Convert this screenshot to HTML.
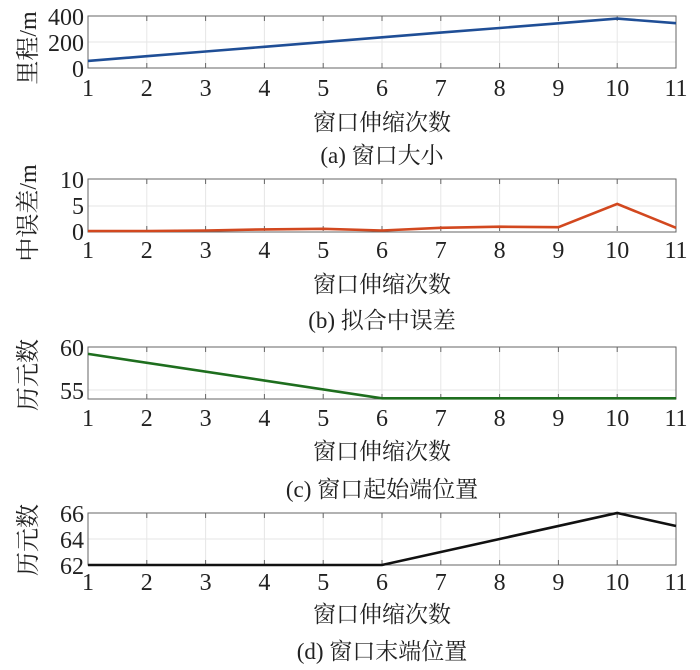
<!DOCTYPE html>
<html><head><meta charset="utf-8"><style>
body{margin:0;background:#fff}
svg text{font-family:"Liberation Serif","Noto Serif CJK SC",serif;fill:#222}
</style></head><body>
<svg width="700" height="665" viewBox="0 0 700 665" xmlns="http://www.w3.org/2000/svg">
<defs>
<g id="vg" stroke="#e6e6e6" stroke-width="1">
<line x1="146.8" x2="146.8" y1="0" y2="52"/><line x1="205.6" x2="205.6" y1="0" y2="52"/><line x1="264.4" x2="264.4" y1="0" y2="52"/><line x1="323.2" x2="323.2" y1="0" y2="52"/><line x1="382" x2="382" y1="0" y2="52"/><line x1="440.8" x2="440.8" y1="0" y2="52"/><line x1="499.6" x2="499.6" y1="0" y2="52"/><line x1="558.4" x2="558.4" y1="0" y2="52"/><line x1="617.2" x2="617.2" y1="0" y2="52"/>
</g>
<g id="tk" stroke="#666" stroke-width="1">
<path d="M146.8 0v5M205.6 0v5M264.4 0v5M323.2 0v5M382 0v5M440.8 0v5M499.6 0v5M558.4 0v5M617.2 0v5M146.8 52v-5M205.6 52v-5M264.4 52v-5M323.2 52v-5M382 52v-5M440.8 52v-5M499.6 52v-5M558.4 52v-5M617.2 52v-5"/>
</g>
<g id="xl" font-size="24" text-anchor="middle">
<text x="88" y="0">1</text><text x="146.8" y="0">2</text><text x="205.6" y="0">3</text><text x="264.4" y="0">4</text><text x="323.2" y="0">5</text><text x="382" y="0">6</text><text x="440.8" y="0">7</text><text x="499.6" y="0">8</text><text x="558.4" y="0">9</text><text x="617.2" y="0">10</text><text x="676" y="0">11</text>
</g>
</defs>

<!-- Panel a -->
<use href="#vg" y="16"/>
<line x1="88" x2="676" y1="42" y2="42" stroke="#e6e6e6"/>
<use href="#tk" y="16"/>
<rect x="88" y="16" width="588" height="52" fill="none" stroke="#666"/>
<polyline fill="none" stroke="#1f4e96" stroke-width="2.6" points="88,60.9 146.8,56.2 205.6,51.5 264.4,46.8 323.2,42.1 382,37.3 440.8,32.6 499.6,28 558.4,23.3 617.2,18.6 676,23.2"/>
<g font-size="24" text-anchor="end"><text x="84" y="25">400</text><text x="84" y="51">200</text><text x="84" y="77">0</text></g>
<use href="#xl" y="96"/>
<text x="382" y="130" font-size="23" text-anchor="middle">窗口伸缩次数</text>
<text x="382" y="163" font-size="23" text-anchor="middle">(a) 窗口大小</text>
<text transform="translate(36,48) rotate(-90)" font-size="24" text-anchor="middle">里程/m</text>

<!-- Panel b -->
<use href="#vg" y="179"/>
<line x1="88" x2="676" y1="206" y2="206" stroke="#e6e6e6"/>
<use href="#tk" y="179"/>
<rect x="88" y="179" width="588" height="53" fill="none" stroke="#666"/>
<polyline fill="none" stroke="#d2481f" stroke-width="2.6" points="88,231 146.8,231 205.6,230.5 264.4,229.4 323.2,228.8 382,230.5 440.8,227.8 499.6,226.7 558.4,227.2 617.2,203.9 676,227.8"/>
<g font-size="24" text-anchor="end"><text x="84" y="188">10</text><text x="84" y="214">5</text><text x="84" y="240">0</text></g>
<use href="#xl" y="258"/>
<text x="382" y="292" font-size="23" text-anchor="middle">窗口伸缩次数</text>
<text x="382" y="328" font-size="23" text-anchor="middle">(b) 拟合中误差</text>
<text transform="translate(36,213) rotate(-90)" font-size="24" text-anchor="middle">中误差/m</text>

<!-- Panel c -->
<use href="#vg" y="347"/>
<line x1="88" x2="676" y1="390" y2="390" stroke="#e6e6e6"/>
<use href="#tk" y="347"/>
<rect x="88" y="347" width="588" height="52" fill="none" stroke="#666"/>
<polyline fill="none" stroke="#1e6e1e" stroke-width="2.6" points="88,353.9 382,398.3 676,398.3"/>
<g font-size="24" text-anchor="end"><text x="84" y="356">60</text><text x="84" y="399">55</text></g>
<use href="#xl" y="426"/>
<text x="382" y="459" font-size="23" text-anchor="middle">窗口伸缩次数</text>
<text x="382" y="497" font-size="23" text-anchor="middle">(c) 窗口起始端位置</text>
<text transform="translate(36,375) rotate(-90)" font-size="24" text-anchor="middle">历元数</text>

<!-- Panel d -->
<use href="#vg" y="513"/>
<line x1="88" x2="676" y1="539" y2="539" stroke="#e6e6e6"/>
<use href="#tk" y="513"/>
<rect x="88" y="513" width="588" height="52" fill="none" stroke="#666"/>
<polyline fill="none" stroke="#111" stroke-width="2.6" points="88,565 382,565 617.2,513 676,526"/>
<g font-size="24" text-anchor="end"><text x="84" y="522">66</text><text x="84" y="548">64</text><text x="84" y="574">62</text></g>
<use href="#xl" y="590"/>
<text x="382" y="622" font-size="23" text-anchor="middle">窗口伸缩次数</text>
<text x="382" y="659" font-size="23" text-anchor="middle">(d) 窗口末端位置</text>
<text transform="translate(36,540) rotate(-90)" font-size="24" text-anchor="middle">历元数</text>
</svg>
</body></html>
